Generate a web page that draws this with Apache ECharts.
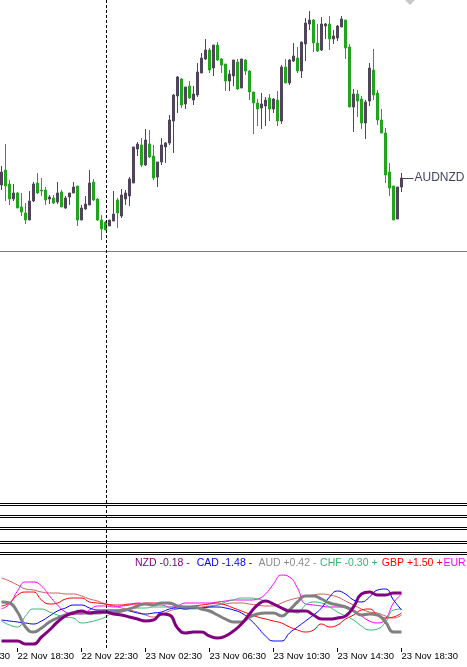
<!DOCTYPE html>
<html>
<head>
<meta charset="utf-8">
<script src="https://cdn.jsdelivr.net/npm/echarts@6/dist/echarts.min.js"></script>
<style>
html, body { margin: 0; padding: 0; background: #fff; }
#chart { width: 467px; height: 667px; }
</style>
</head>
<body>
<div id="chart"></div>
<script>
// AUDNZD M15 from 22 Nov 17:30, prices in points (open, close, low, high)
const candles = [
  [65, 78, 60, 84], [80, 64, 49, 106], [66, 51, 45, 70], [51, 57, 49, 66], [57, 42, 42, 58],
  [43, 38, 34, 57], [37, 30, 26, 47], [30, 49, 30, 59], [49, 66, 48, 68], [67, 57, 56, 77],
  [60, 59, 54, 72], [60, 50, 45, 63], [51, 53, 46, 55], [52, 47, 46, 55], [48, 57, 46, 68],
  [58, 43, 43, 60], [42, 52, 41, 54], [53, 57, 45, 57], [57, 63, 57, 68], [64, 30, 24, 64],
  [30, 42, 30, 45], [41, 46, 40, 54], [45, 67, 45, 80], [68, 50, 49, 71], [51, 30, 29, 52],
  [30, 21, 10, 35], [28, 20, 20, 29], [24, 30, 24, 30], [29, 36, 29, 59], [50, 37, 22, 52],
  [34, 55, 32, 61], [51, 57, 45, 60], [54, 71, 44, 73], [67, 103, 67, 103], [101, 106, 94, 108],
  [105, 85, 83, 112], [85, 110, 84, 121], [106, 93, 92, 120], [94, 72, 70, 105], [73, 88, 63, 88],
  [88, 105, 85, 112], [103, 107, 87, 108], [107, 130, 105, 135], [129, 155, 97, 156], [154, 173, 137, 174],
  [171, 145, 142, 172], [146, 163, 141, 163], [164, 152, 151, 169], [150, 156, 145, 164], [155, 178, 153, 187],
  [177, 192, 177, 197], [191, 200, 190, 211], [200, 180, 177, 202], [182, 205, 174, 205], [205, 190, 189, 208],
  [191, 185, 177, 192], [186, 169, 159, 186], [169, 176, 159, 180], [174, 190, 164, 190], [188, 161, 160, 191],
  [162, 191, 162, 191], [190, 179, 175, 191], [179, 158, 150, 180], [158, 147, 116, 158], [147, 141, 124, 151],
  [142, 146, 121, 157], [144, 150, 124, 153], [152, 141, 129, 156], [141, 151, 137, 152], [150, 129, 124, 159],
  [129, 183, 126, 185], [183, 167, 167, 191], [167, 190, 165, 191], [189, 194, 188, 207], [192, 179, 177, 203],
  [179, 208, 172, 208], [206, 227, 189, 232], [226, 230, 220, 239], [230, 207, 198, 231], [207, 199, 198, 226],
  [200, 226, 199, 233], [224, 226, 211, 227], [226, 211, 200, 234], [211, 214, 206, 220], [212, 224, 209, 225],
  [223, 231, 223, 234], [230, 202, 191, 230], [203, 143, 143, 206], [143, 156, 118, 161], [156, 149, 133, 160],
  [151, 127, 121, 154], [127, 148, 111, 150], [149, 182, 144, 187], [180, 155, 150, 201], [157, 130, 125, 160],
  [130, 117, 117, 141], [117, 75, 67, 122], [78, 62, 54, 87], [64, 30, 30, 64], [31, 63, 31, 63],
  [63, 72, 58, 77]
];
const hLevel = -1;            // horizontal line under the price pane
const separatorTime = '23 Nov 00:00';

// currency strength lines, sampled every 2 bars from 22 Nov 17:30
const NZD = [7,7,7,4,4,11,18,26,32,35,37,35,36,36,34,33,31,29,27,28,34,33,20,15,16,16,12,10,12,17,24,34,43,47,44,40,37,37,37,33,29,29,30,32,41,54,56,53,53,55,55];
const CAD = [28,27,26,25,24,27,32,37,40,43,43,40,38,38,38,38,37,35,34,35,36,39,40,39,40,40,41,41,40,38,35,29,21,12,7,7,15,21,27,33,40,51,57,54,48,46,51,58,59,48,38];
const AUD = [46,45,36,21,16,20,26,30,33,35,35,35,35,36,36,37,39,42,44,43,45,45,42,41,41,39,37,33,29,26,26,31,34,35,35,32,38,46,52,52,49,45,43,41,37,33,34,33,26,16,16];
const CHF = [27,23,21,32,39,39,36,33,31,30,25,26,28,31,36,38,39,40,40,41,41,41,40,39,39,40,41,43,46,48,50,50,49,47,44,41,38,35,43,46,45,41,36,32,28,22,18,19,26,38,39];
const GBP = [42,45,53,56,56,48,44,45,49,50,50,46,45,44,43,43,44,44,45,45,45,44,42,41,42,43,44,45,43,40,37,34,31,29,27,25,21,18,16,18,24,21,23,29,33,38,39,33,30,31,35];
const EUR = [39,44,57,66,66,62,52,43,36,34,34,38,42,42,41,42,43,45,44,43,43,41,42,45,45,45,45,46,47,48,48,48,49,54,64,73,71,60,44,43,42,41,41,41,38,32,27,25,29,45,54];
const USD = [70,67,63,59,58,56,55,55,54,54,52,49,47,44,42,40,38,36,33,31,33,37,39,40,40,41,42,43,44,45,45,44,43,42,42,45,48,50,52,53,54,53,51,47,43,39,36,35,32,30,33];

const legendNames = ['NZD', 'CAD', 'AUD', 'CHF', 'GBP', 'EUR'];
const legendValues = ['-0.18', '-1.48', '+0.42', '-0.30', '+1.50', ''];
const legendTrend = ['-', '-', '-', '+', '+', ''];
const legendColors = ['#800080', '#0000ff', '#8c8c8c', '#3cb371', '#ff0000', '#ff00ff'];

// time axis: 15 minute bars from 22 Nov 14:30 (first 12 are left of the window),
// plus empty space on the right of the last bar
const hiddenBars = 12;
const totalBars = hiddenBars + 117;
const barPx = 4;
const pad = n => (n < 10 ? '0' : '') + n;
const times = [];
for (let i = 0; i < totalBars; i++) {
  const m = 14 * 60 + 30 + i * 15;
  times.push((22 + Math.floor(m / 1440)) + ' Nov ' + pad(Math.floor((m % 1440) / 60)) + ':' + pad(m % 60));
}
const lastBar = hiddenBars + candles.length - 1;
const candleData = times.map((t, i) => (i >= hiddenBars && i <= lastBar ? candles[i - hiddenBars] : '-'));
const sampleIdx = NZD.map((v, k) => hiddenBars + 2 * k);
const zip = vals => vals.map((v, k) => [sampleIdx[k], v]);
const labelEvery = (idx) => idx % 16 === 0 && idx <= lastBar;

const chart = echarts.init(document.getElementById('chart'));

const strengthLine = (name, vals, color, width) => ({
  name: name,
  type: 'line',
  xAxisIndex: 2,
  yAxisIndex: 1,
  data: zip(vals),
  smooth: 0.5,
  symbol: 'none',
  silent: true,
  lineStyle: { color: color, width: width }
});

const gridLeft = -0.5 - hiddenBars * barPx;
const gridWidth = totalBars * barPx;

chart.setOption({
  animation: false,
  backgroundColor: '#fff',
  grid: [
    { left: gridLeft, top: 0, width: gridWidth, height: 500, outerBoundsMode: 'none', containLabel: false },
    { left: gridLeft, top: 555, width: gridWidth, height: 93, outerBoundsMode: 'none', containLabel: false }
  ],
  xAxis: [
    { type: 'category', gridIndex: 0, data: times, show: false },
    {
      type: 'category', gridIndex: 1, data: times,
      axisLine: { show: false },
      axisTick: { show: true, alignWithLabel: true, interval: labelEvery, length: 4, lineStyle: { color: '#000' } },
      axisLabel: {
        interval: labelEvery, align: 'left', margin: 3, hideOverlap: false,
        color: '#000', fontSize: 9.5, fontFamily: 'Liberation Sans'
      },
      splitLine: { show: false }
    },
    { type: 'value', gridIndex: 1, min: -0.5, max: totalBars - 0.5, show: false, position: 'top' }
  ],
  yAxis: [
    { type: 'value', gridIndex: 0, min: -250, max: 250, show: false },
    { type: 'value', gridIndex: 1, min: 0, max: 93, show: false }
  ],
  series: [
    {
      type: 'candlestick',
      xAxisIndex: 0,
      yAxisIndex: 0,
      data: candleData,
      barWidth: 2,
      itemStyle: {
        color: '#4f445a', color0: '#1fa61a',
        borderColor: '#4f445a', borderColor0: '#1fa61a', borderWidth: 1
      },
      markLine: {
        silent: true,
        symbol: 'none',
        animation: false,
        label: { show: false },
        data: [
          { yAxis: hLevel, lineStyle: { color: '#808080', width: 1, type: 'solid' } },
          [
            { coord: [times[lastBar], candles[candles.length - 1][1]], lineStyle: { color: '#4a4a5a', width: 1, type: 'solid' } },
            {
              coord: [times[lastBar + 3], candles[candles.length - 1][1]],
              label: {
                show: true, position: 'end', distance: 1, formatter: 'AUDNZD',
                color: '#45455e', fontSize: 12, fontFamily: 'Liberation Sans'
              }
            }
          ]
        ]
      }
    },
    strengthLine('USD', USD, '#cd5c5c', 1),
    strengthLine('EUR', EUR, '#ff00ff', 1),
    strengthLine('GBP', GBP, '#ff0000', 1),
    strengthLine('CHF', CHF, '#3cb371', 1),
    strengthLine('CAD', CAD, '#0000ff', 1),
    strengthLine('AUD', AUD, '#808080', 3),
    strengthLine('NZD', NZD, '#800080', 3)
  ]
});

// period separator, collapsed indicator windows, legend
const sepX = Math.round(chart.convertToPixel({ xAxisIndex: 0 }, separatorTime)) + 0.5;
const graphics = [];
[503, 505, 515, 517, 527, 529, 541, 543, 552, 554].forEach(y => {
  graphics.push({ type: 'line', silent: true, shape: { x1: 0, y1: y + 0.5, x2: 467, y2: y + 0.5 }, style: { stroke: '#000', lineWidth: 1 } });
});
graphics.push({
  type: 'line', silent: true, z: 10,
  shape: { x1: sepX, y1: 0, x2: sepX, y2: 649 },
  style: { stroke: '#000', lineWidth: 1, lineDash: [3, 2] }
});
graphics.push({
  type: 'polygon', silent: true,
  shape: { points: [[405, 0], [415, 0], [410, 5]] },
  style: { fill: '#c8c8c8' }
});
legendNames.forEach((name, k) => {
  graphics.push({
    type: 'text', silent: true,
    style: {
      x: 135 + k * 61.7, y: 563,
      text: [name, legendValues[k], legendTrend[k]].filter(s => s).join(' '),
      fill: legendColors[k], fontSize: 10.5, fontFamily: 'Liberation Sans',
      verticalAlign: 'middle'
    }
  });
});
chart.setOption({ graphic: graphics });
</script>
</body>
</html>
